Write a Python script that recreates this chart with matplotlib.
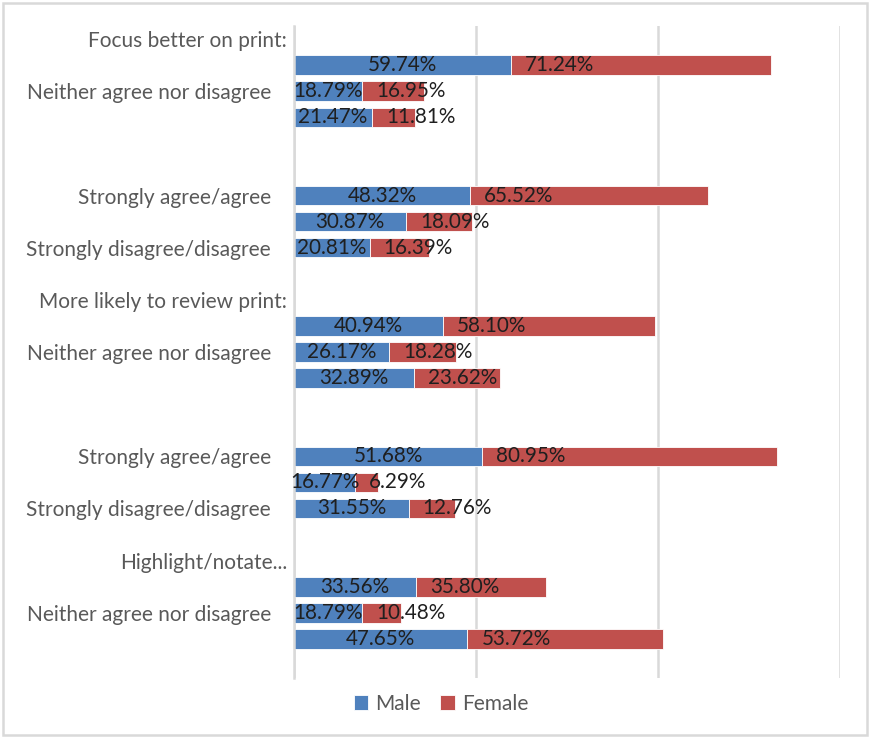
import numpy as np
import matplotlib.pyplot as plt
from matplotlib.patches import Rectangle
from matplotlib.transforms import ScaledTranslation

plt.rcParams['font.family'] = ['Lato', 'DejaVu Sans']

# one block per question: header row, three answers, then a spacer row
headers = ["Focus better on print:", "", "More likely to review print:", "", "Highlight/notate..."]
answers = ["Strongly agree/agree", "Neither agree nor disagree", "Strongly disagree/disagree"]
rows = []
for h in headers:
    rows += [h] + answers + [""]

male = [59.74, 18.79, 21.47,
        48.32, 30.87, 20.81,
        40.94, 26.17, 32.89,
        51.68, 16.77, 31.55,
        33.56, 18.79, 47.65]
female = [71.24, 16.95, 11.81,
          65.52, 18.09, 16.39,
          58.10, 18.28, 23.62,
          80.95, 6.29, 12.76,
          35.80, 10.48, 53.72]

blue = '#4F81BD'
red = '#C0504D'
grey = '#D9D9D9'
fs = 14.9

# answer rows sit at positions 1-3 inside each block of 5
pos = np.array([b * 5 + k for b in range(5) for k in (1, 2, 3)])

fig = plt.figure(figsize=(8.7, 7.38), dpi=100)
ax = fig.add_axes([294 / 870, 1 - 678 / 738, (840 - 294) / 870, (678 - 26) / 738])

bm = ax.barh(pos, male, height=0.75, color=blue, edgecolor='white', linewidth=0.6, label='Male')
bf = ax.barh(pos, female, left=male, height=0.75, color=red, edgecolor='white', linewidth=0.6, label='Female')

# male labels centred, female labels sit just inside the start of their segment
ax.bar_label(bm, fmt='%.2f%%', label_type='center', fontsize=fs, color='#1F1F1F')
for y, m, f in zip(pos, male, female):
    ax.annotate(f'{f:.2f}%', xy=(m, y), xytext=(10, 0), textcoords='offset points',
                ha='left', va='center', fontsize=fs, color='#1F1F1F')

ax.set_xlim(0, 150)
ax.set_ylim(len(rows) - 0.5, -0.5)
ax.set_xticks([0, 50, 100, 150])
ax.set_xticklabels([])
ax.xaxis.grid(True, color=grey, linewidth=1.8)
ax.set_axisbelow(True)
ax.tick_params(length=0)

shown = list(range(0, len(rows), 2))
ax.set_yticks(shown)
ax.set_yticklabels([rows[i] for i in shown], fontsize=15, color='#595959')
ax.tick_params(axis='y', pad=16.5)

# question headers run a little closer to the axis
nudge = ScaledTranslation(16 / 100, 0, fig.dpi_scale_trans)
for lab in ax.get_yticklabels():
    if lab.get_text() in headers and lab.get_text():
        lab.set_transform(lab.get_transform() + nudge)

for s in ('top', 'right', 'bottom'):
    ax.spines[s].set_visible(False)
ax.spines['left'].set_color(grey)
ax.spines['left'].set_linewidth(1.8)

fig.legend(handles=[bm, bf], loc='center', bbox_to_anchor=(441 / 870, 1 - 704 / 738),
           ncol=2, frameon=False, fontsize=15, labelcolor='#595959',
           handlelength=0.7, handleheight=0.7, handletextpad=0.35, columnspacing=0.9)

fig.patches.append(Rectangle((0.004, 0.004), 0.992, 0.992, transform=fig.transFigure,
                             fill=False, edgecolor=grey, linewidth=1.8))

fig.savefig('out.png', dpi=100)
